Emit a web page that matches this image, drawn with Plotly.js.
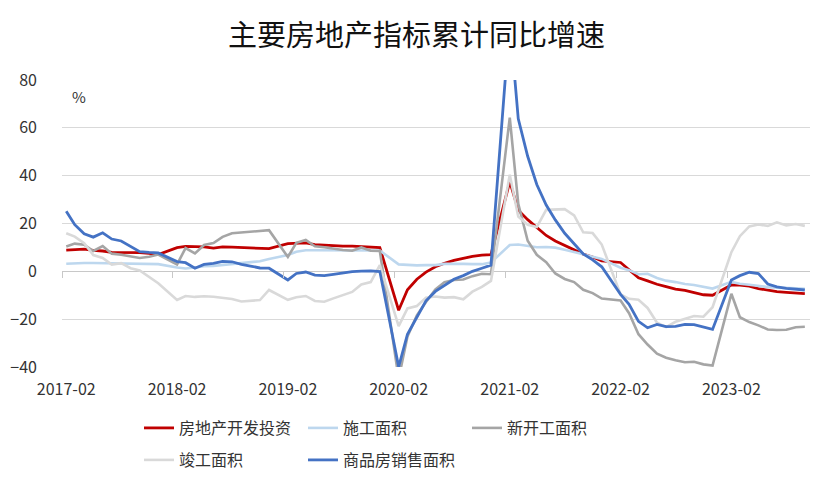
<!DOCTYPE html>
<html>
<head>
<meta charset="utf-8">
<script src="https://cdn.plot.ly/plotly-3.0.1.min.js"></script>
<style>
  html, body { margin: 0; padding: 0; background: #ffffff; }
  #chart { width: 833px; height: 484px; }
</style>
</head>
<body>
<div id="chart"></div>
<script>
// ---- Data (cumulative YoY, %; monthly Feb–Dec, Jan not published) ----
const years = [2017, 2018, 2019, 2020, 2021, 2022, 2023];
const lastMonth2023 = 10;
const tickLabels = ["2017-02", "2018-02", "2019-02", "2020-02", "2021-02", "2022-02", "2023-02"];

const seriesNames = ["房地产开发投资", "施工面积", "新开工面积", "竣工面积", "商品房销售面积"];

const investment = [
  8.9, 9.1, 9.3, 8.8, 8.5, 7.9, 7.9, 8.1, 7.8, 7.5, 7.0,
  9.9, 10.4, 10.3, 10.2, 9.7, 10.2, 10.1, 9.9, 9.7, 9.7, 9.5,
  11.6, 11.8, 11.9, 11.2, 10.9, 10.6, 10.5, 10.5, 10.3, 10.2, 9.9,
  -16.3, -7.7, -3.3, -0.3, 1.9, 3.4, 4.6, 5.6, 6.3, 6.8, 7.0,
  37.5, 25.6, 21.6, 18.3, 15.0, 12.7, 10.9, 8.8, 7.2, 6.0, 4.4,
  3.7, 0.7, -2.7, -4.0, -5.4, -6.4, -7.4, -8.0, -8.8, -9.8, -10.0,
  -5.7, -5.8, -6.2, -7.2, -7.9, -8.5, -8.8, -9.1, -9.3
];
const construction = [
  3.2, 3.4, 3.5, 3.5, 3.4, 3.3, 3.2, 3.2, 3.1, 3.0, 3.0,
  1.6, 1.2, 1.6, 2.1, 2.3, 2.7, 3.1, 3.3, 3.6, 4.2, 5.2,
  6.8, 8.2, 8.8, 8.8, 8.8, 9.0, 8.8, 9.0, 9.0, 8.7, 8.7,
  2.9, 2.6, 2.5, 2.6, 2.6, 3.1, 3.2, 3.1, 3.0, 3.0, 3.7,
  11.0, 11.2, 10.5, 10.1, 10.2, 9.9, 9.0, 7.9, 7.1, 6.1, 5.2,
  1.5, 0.5, -1.2, -1.0, -2.8, -3.9, -4.5, -5.3, -5.7, -6.5, -7.2,
  -4.4, -5.2, -5.6, -6.2, -6.6, -6.8, -7.1, -7.1, -7.3
];
const newStarts = [
  10.4, 11.6, 11.1, 8.5, 10.6, 7.4, 6.9, 6.1, 5.6, 6.1, 7.0,
  2.9, 9.7, 7.5, 11.0, 11.8, 14.4, 15.9, 16.3, 16.4, 16.8, 17.2,
  6.0, 11.9, 13.1, 10.5, 10.1, 9.5, 8.9, 8.6, 10.0, 8.6, 8.5,
  -44.9, -27.2, -18.4, -12.8, -7.6, -4.5, -3.6, -3.4, -2.0, -1.0, -1.2,
  64.3, 28.2, 12.8, 6.9, 3.8, -0.9, -3.2, -4.5, -7.7, -9.1, -11.4,
  -12.2, -17.5, -26.3, -30.6, -34.4, -36.1, -37.2, -38.0, -37.8, -38.9, -39.4,
  -9.4, -19.2, -21.2, -22.6, -24.3, -24.5, -24.4, -23.4, -23.2
];
const completion = [
  15.9, 14.5, 11.8, 6.8, 5.6, 2.8, 3.4, 1.3, 0.4, -2.2, -5.0,
  -12.0, -10.3, -10.7, -10.4, -10.6, -11.2, -11.6, -12.6, -12.3, -12.0, -7.8,
  -11.9, -10.8, -10.3, -12.4, -12.7, -11.3, -10.0, -8.6, -5.5, -4.5, 2.6,
  -22.9, -15.5, -14.5, -11.0, -10.5, -11.0, -10.8, -11.7, -8.5, -6.5, -4.0,
  40.4, 22.9, 19.5, 18.5, 25.7, 25.7, 26.0, 23.4, 16.3, 16.0, 11.2,
  -9.7, -11.5, -11.9, -15.3, -21.5, -23.3, -21.1, -19.9, -18.7, -19.0, -15.0,
  8.0, 14.7, 18.8, 19.6, 19.0, 20.5, 19.2, 19.8, 19.0
];
const sales = [
  25.1, 19.5, 15.7, 14.3, 16.1, 13.5, 12.7, 10.3, 8.2, 7.9, 7.7,
  4.1, 3.6, 1.3, 2.9, 3.3, 4.2, 4.0, 2.9, 2.2, 1.4, 1.3,
  -3.6, -0.9, -0.3, -1.6, -1.8, -1.3, -0.6, -0.1, 0.1, 0.2, -0.1,
  -39.9, -26.3, -19.3, -12.3, -8.4, -5.8, -3.3, -1.8, 0.0, 1.3, 2.6,
  104.9, 63.8, 48.1, 36.3, 27.7, 21.5, 15.9, 11.3, 7.3, 4.8, 1.9,
  -9.6, -13.8, -20.9, -23.6, -22.2, -23.1, -23.0, -22.2, -22.3, -23.3, -24.3,
  -3.6, -1.8, -0.4, -0.9, -5.3, -6.5, -7.1, -7.5, -7.8
];

// ---- Build dates (each month plotted at mid-month) ----
const pad = n => (n < 10 ? "0" + n : "" + n);
const dates = [];
years.forEach(y => {
  const last = y === 2023 ? lastMonth2023 : 12;
  for (let m = 2; m <= last; m++) dates.push(y + "-" + pad(m) + "-15");
});
const labelDates = years.map(y => y + "-02-15");
const boundaryDates = years.map(y => y + "-02-01").concat(["2024-02-01"]);
const xRange = ["2017-02-01", "2023-11-01"];

const colors = ["#C00000", "#BDD7EE", "#A5A5A5", "#D9D9D9", "#4472C4"];
const widths = [2.8, 2.6, 2.6, 2.6, 2.8];
const values = [investment, construction, newStarts, completion, sales];
const legendIds = ["legend", "legend", "legend", "legend2", "legend2"];

const FONT = '"Noto Sans CJK SC", "Noto Sans", sans-serif';

const traces = values.map((v, i) => ({
  type: "scatter",
  mode: "lines",
  x: dates,
  y: v,
  name: seriesNames[i],
  legend: legendIds[i],
  line: { color: colors[i], width: widths[i] },
  hoverinfo: "x+y+name"
}));
// empty helper trace so the tick-mark axis along y=0 exists
traces.push({ type: "scatter", mode: "lines", x: [], y: [], xaxis: "x2", yaxis: "y", showlegend: false, hoverinfo: "skip" });

const legendCommon = {
  orientation: "h",
  xanchor: "left",
  yanchor: "middle",
  font: { family: FONT, size: 16, color: "#333333" },
  bgcolor: "rgba(0,0,0,0)",
  entrywidth: 119,
  itemwidth: 30,
  traceorder: "normal"
};

const layout = {
  width: 833,
  height: 484,
  paper_bgcolor: "#ffffff",
  plot_bgcolor: "#ffffff",
  margin: { l: 62, r: 23, t: 80, b: 117, autoexpand: false },
  font: { family: FONT, color: "#333333" },
  title: {
    text: "主要房地产指标累计同比增速",
    font: { family: FONT, size: 29, color: "#111111" },
    x: 0.5, xanchor: "center",
    y: 1 - 36 / 484, yanchor: "middle", yref: "container"
  },
  xaxis: {
    type: "date",
    range: xRange,
    tickmode: "array",
    tickvals: labelDates,
    ticktext: tickLabels,
    ticks: "outside",
    ticklen: 8,
    tickcolor: "rgba(0,0,0,0)",
    showgrid: false,
    zeroline: false,
    showline: false,
    tickfont: { family: FONT, size: 16, color: "#333333" },
    fixedrange: true
  },
  xaxis2: {
    type: "date",
    overlaying: "x",
    anchor: "free",
    position: 40 / 120,
    range: xRange,
    tickmode: "array",
    tickvals: boundaryDates,
    ticks: "outside",
    ticklen: 6,
    tickwidth: 1,
    tickcolor: "#c8c8c8",
    showticklabels: false,
    showgrid: false,
    zeroline: false,
    showline: false,
    fixedrange: true
  },
  yaxis: {
    range: [-40, 80],
    tickmode: "array",
    tickvals: [-40, -20, 0, 20, 40, 60, 80],
    showgrid: true,
    gridcolor: "#d9d9d9",
    gridwidth: 1,
    zeroline: true,
    zerolinecolor: "#c8c8c8",
    zerolinewidth: 1,
    showline: false,
    ticks: "",
    ticklabelstandoff: 24,
    tickfont: { family: FONT, size: 16, color: "#333333" },
    fixedrange: true
  },
  legend: Object.assign({}, legendCommon, { x: (139 - 62) / 748, y: (367 - 428) / 287 }),
  legend2: Object.assign({}, legendCommon, { x: (139 - 62) / 748, y: (367 - 460) / 287 }),
  annotations: [{
    text: "%",
    xref: "paper", yref: "paper",
    x: (70 - 62) / 748, y: (367 - 97) / 287,
    xanchor: "left", yanchor: "middle",
    showarrow: false,
    font: { family: FONT, size: 15, color: "#333333" }
  }],
  showlegend: true
};

Plotly.newPlot("chart", traces, layout, { displayModeBar: false, staticPlot: false });
</script>
</body>
</html>
